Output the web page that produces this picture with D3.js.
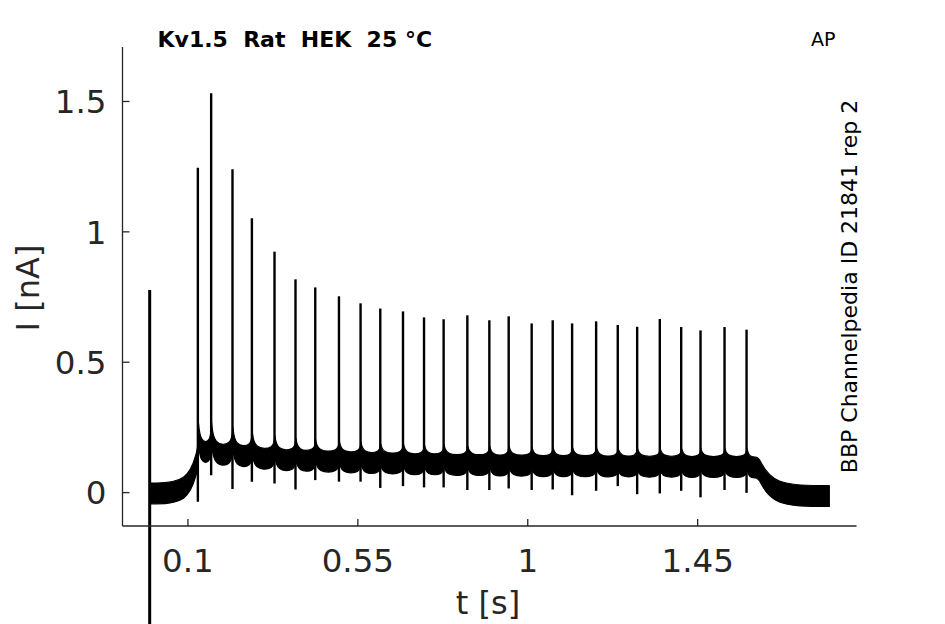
<!DOCTYPE html>
<html>
<head>
<meta charset="utf-8">
<script src="https://cdn.jsdelivr.net/npm/d3@7"></script>
<style>
  body { margin: 0; background: #fff; }
  svg { display: block; font-family: "DejaVu Sans", sans-serif; }
</style>
</head>
<body>
<svg id="viz" width="945" height="624"></svg>
<script>
// spike times [s], peak and trough currents [nA]
const spikeT = [0.000, 0.1276, 0.1628, 0.2193, 0.2707, 0.3306, 0.3862, 0.4385, 0.5013, 0.5585,
  0.6107, 0.6709, 0.7266, 0.7785, 0.8413, 0.8996, 0.9508, 1.0117, 1.0674, 1.1188,
  1.1824, 1.2397, 1.2911, 1.3510, 1.4077, 1.4589, 1.5225, 1.5808]
const spikePeak = [0.775, 1.244, 1.530, 1.238, 1.050, 0.922, 0.816, 0.785, 0.751, 0.724,
  0.704, 0.693, 0.670, 0.663, 0.678, 0.659, 0.674, 0.647, 0.659, 0.647,
  0.655, 0.641, 0.634, 0.664, 0.633, 0.620, 0.633, 0.623]
const spikeTrough = [-0.60, -0.037, 0.065, 0.012, 0.040, 0.033, 0.010, 0.046, 0.040, 0.040,
  0.016, 0.023, 0.018, 0.018, 0.008, 0.008, 0.014, 0.008, 0.010, -0.012,
  0.005, 0.023, -0.008, -0.005, 0.005, -0.020, 0.008, -0.003]
// holding level just before each spike and the shoulder right after it
const spikeBase = [-0.005, 0.125, 0.150, 0.140, 0.135, 0.125, 0.120, 0.118, 0.115, 0.112,
  0.110, 0.108, 0.105, 0.105, 0.102, 0.102, 0.100, 0.100, 0.098, 0.098,
  0.098, 0.097, 0.097, 0.096, 0.096, 0.095, 0.095, 0.095]
const spikeTail = [-0.005, 0.240, 0.235, 0.215, 0.195, 0.180, 0.170, 0.165, 0.160, 0.155,
  0.150, 0.150, 0.145, 0.145, 0.140, 0.140, 0.140, 0.135, 0.135, 0.135,
  0.135, 0.130, 0.130, 0.130, 0.130, 0.130, 0.130, 0.130]
// baseline before the first AP and after the stimulus
const preT = [0.000, 0.1026, 0.126]
const preI = [-0.005, -0.005, 0.125]
const postT = [1.607, 1.615, 1.648, 1.800]
const postI = [0.095, 0.090, -0.015, -0.015]

const xTicks = [0.1, 0.55, 1, 1.45]
const xTickLabels = ['0.1', '0.55', '1', '1.45']
const yTicks = [0, 0.5, 1, 1.5]
const yTickLabels = ['0', '0.5', '1', '1.5']

const ink = '#262626'
const axLeft = 122.5, axTop = 47, axRight = 856.5, axBottom = 526
const bandHalf = 0.04

let svg = d3.select('#viz')

let x = d3.scaleLinear().domain([-0.072, 1.872]).range([axLeft, axRight])
let y = d3.scaleLinear().domain([-0.130, 1.707]).range([axBottom, axTop])

// noisy holding current, drawn as a band
let center = []
preT.forEach((t, i) => center.push([t, preI[i]]))
for (let i = 1; i < spikeT.length; i++) {
  let next = i + 1 < spikeT.length ? spikeBase[i + 1] : postI[0]
  center.push([spikeT[i], spikeBase[i]])
  center.push([spikeT[i], spikeTail[i]])
  center.push([spikeT[i] + 0.001, spikeTail[i]])
  center.push([spikeT[i] + 0.006, next])
}
postT.forEach((t, i) => center.push([t, postI[i]]))

let band = d3.area()
  .curve(d3.curveBasis)
  .x(d => x(d[0]))
  .y0(d => y(d[1] - bandHalf))
  .y1(d => y(d[1] + bandHalf))

svg.append('path')
  .datum(center)
  .attr('d', band)
  .attr('fill', '#000')
  .attr('stroke', '#000')
  .attr('stroke-width', 1.2)
  .attr('stroke-linejoin', 'round')

// spikes
let spikeLine = d3.line().x(d => x(d[0])).y(d => y(d[1]))
svg.append('g').selectAll('path')
  .data(spikeT.map((t, i) => [[t, spikeTrough[i]], [t, spikePeak[i]]]))
  .enter()
  .append('path')
  .attr('d', spikeLine)
  .attr('fill', 'none')
  .attr('stroke', '#000')
  .attr('stroke-width', (d, i) => i === 0 ? 3 : 2.4)

// axes
let xAxis = d3.axisBottom(x)
  .tickValues(xTicks)
  .tickFormat((d, i) => xTickLabels[i])
  .tickSizeInner(-7)
  .tickSizeOuter(0)
  .tickPadding(23)
let yAxis = d3.axisLeft(y)
  .tickValues(yTicks)
  .tickFormat((d, i) => yTickLabels[i])
  .tickSizeInner(-7)
  .tickSizeOuter(0)
  .tickPadding(16)

let gx = svg.append('g').attr('transform', `translate(0,${axBottom})`).call(xAxis)
let gy = svg.append('g').attr('transform', `translate(${axLeft},0)`).call(yAxis)
gy.select('.domain').attr('d', `M0,${axTop}V${axBottom}`)
gx.select('.domain').attr('d', `M${axLeft},0H${axRight}`)
for (let g of [gx, gy]) {
  g.selectAll('.domain, .tick line').attr('stroke', ink).attr('stroke-width', 1.3)
  g.selectAll('.tick text')
    .attr('fill', ink)
    .style('font-family', '"DejaVu Sans", sans-serif')
    .style('font-size', '32.5px')
}
gy.selectAll('.tick text').attr('dy', '0.36em')

// labels
svg.append('text')
  .attr('x', 488).attr('y', 614)
  .attr('text-anchor', 'middle')
  .attr('fill', ink)
  .style('font-size', '32px')
  .text('t [s]')

svg.append('text')
  .attr('transform', 'translate(39,288) rotate(-90)')
  .attr('text-anchor', 'middle')
  .attr('fill', ink)
  .style('font-size', '32px')
  .text('I [nA]')

svg.append('text')
  .attr('x', 157.5).attr('y', 46.5)
  .attr('fill', '#000')
  .style('font-size', '22px')
  .style('font-weight', 'bold')
  .style('white-space', 'pre')
  .text('Kv1.5  Rat  HEK  25 °C')

svg.append('text')
  .attr('x', 811).attr('y', 46)
  .attr('fill', '#000')
  .style('font-size', '19px')
  .text('AP')

svg.append('text')
  .attr('transform', 'translate(857,286.5) rotate(-90)')
  .attr('text-anchor', 'middle')
  .attr('fill', '#000')
  .style('font-size', '22px')
  .text('BBP Channelpedia ID 21841 rep 2')
</script>
</body>
</html>
